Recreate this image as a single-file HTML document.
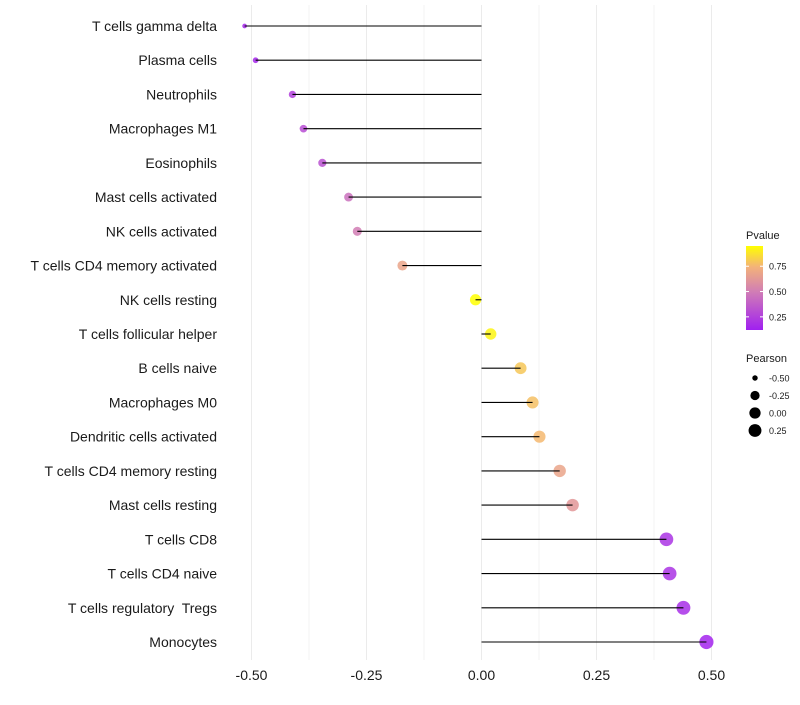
<!DOCTYPE html>
<html><head><meta charset="utf-8"><style>
body{margin:0;background:#fff;}
svg text{font-family:"Liberation Sans",sans-serif;white-space:pre;}
</style></head><body>
<svg id="c" width="800" height="700"></svg>
<script>
const categories=["T cells gamma delta","Plasma cells","Neutrophils","Macrophages M1","Eosinophils","Mast cells activated","NK cells activated","T cells CD4 memory activated","NK cells resting","T cells follicular helper","B cells naive","Macrophages M0","Dendritic cells activated","T cells CD4 memory resting","Mast cells resting","T cells CD8","T cells CD4 naive","T cells regulatory  Tregs","Monocytes"];
const pearson=[-0.515,-0.491,-0.411,-0.387,-0.346,-0.289,-0.270,-0.172,-0.013,0.020,0.085,0.111,0.126,0.170,0.198,0.402,0.409,0.439,0.489];
const pvalue=[0.15,0.15,0.25,0.3,0.32,0.45,0.5,0.68,0.95,0.92,0.8,0.78,0.76,0.68,0.62,0.2,0.2,0.18,0.14];
const xTicks=[-0.5,-0.25,0,0.25,0.5];
const xTickLabels=["-0.50","-0.25","0.00","0.25","0.50"];
const pTicks=[0.25,0.5,0.75];
const sizeLegend=[-0.5,-0.25,0,0.25];

const NS="http://www.w3.org/2000/svg",svg=document.getElementById('c');
function mk(t,a,p){const e=document.createElementNS(NS,t);for(const k in a)e.setAttribute(k,a[k]);(p||svg).appendChild(e);return e;}
const x=v=>481.5+v*460;
const y=i=>26+i*(642-26)/(categories.length-1);
const pMin=0.12,pMax=0.95;
const stops=[[0,[160,32,240]],[0.45,[208,124,182]],[0.75,[243,178,122]],[1,[255,255,0]]];
function col(p){let t=Math.max(0,Math.min(1,(p-pMin)/(pMax-pMin)));for(let i=1;i<stops.length;i++){if(t<=stops[i][0]){const a=stops[i-1],b=stops[i],f=(t-a[0])/(b[0]-a[0]);const c=a[1].map((v,j)=>Math.round(v+(b[1][j]-v)*f));return `rgb(${c})`;}}return 'rgb(255,255,0)';}
const sMin=-0.52,sMax=0.5;
const r=v=>2+5.1*Math.sqrt(Math.max(0,(v-sMin)/(sMax-sMin)));
[-0.5,-0.375,-0.25,-0.125,0,0.125,0.25,0.375,0.5].forEach(v=>{const g=mk('line',{x1:x(v),x2:x(v),y1:5,y2:660,stroke:'#ebebeb','stroke-width':v*8%2==0?1:0.6});

});
xTicks.forEach((v,i)=>{const t=mk('text',{x:x(v),y:680,'text-anchor':'middle','font-size':14,fill:'#1a1a1a'});t.textContent=xTickLabels[i];

});
categories.forEach((c,i)=>{const t=mk('text',{x:217,y:y(i)+5,'text-anchor':'end','font-size':14,fill:'#1a1a1a'});t.textContent=c;


const d=mk('circle',{cx:x(pearson[i]),cy:y(i),r:r(pearson[i]),fill:col(pvalue[i]),'fill-opacity':0.85});


const l=mk('line',{x1:x(0),x2:x(pearson[i]),y1:y(i),y2:y(i),stroke:'#000','stroke-width':1.1});

});
const lt=mk('text',{x:746,y:239,'font-size':11,fill:'#1a1a1a'});lt.textContent='Pvalue';


const defs=mk('defs',{});const lg=mk('linearGradient',{id:'g',x1:0,y1:1,x2:0,y2:0},defs);
stops.forEach(s=>mk('stop',{offset:s[0],'stop-color':`rgb(${s[1]})`},lg));
const pb=p=>330-(p-pMin)/(pMax-pMin)*84;
const bar=mk('rect',{x:746,y:246,width:17,height:84,fill:'url(#g)'});


pTicks.forEach(p=>{mk('line',{x1:746,x2:749,y1:pb(p),y2:pb(p),stroke:'#fff'});mk('line',{x1:760,x2:763,y1:pb(p),y2:pb(p),stroke:'#fff'});
const t=mk('text',{x:769,y:pb(p)+3.5,'font-size':9,fill:'#1a1a1a'});t.textContent=p.toFixed(2);

});
const st=mk('text',{x:746,y:362,'font-size':11,fill:'#1a1a1a'});st.textContent='Pearson';


sizeLegend.forEach((v,i)=>{const cy=378+i*17.5;mk('circle',{cx:755,cy:cy,r:r(v),fill:'#000'});
const t=mk('text',{x:769,y:cy+3.5,'font-size':9,fill:'#1a1a1a'});t.textContent=v.toFixed(2);

});
</script>
</body></html>
